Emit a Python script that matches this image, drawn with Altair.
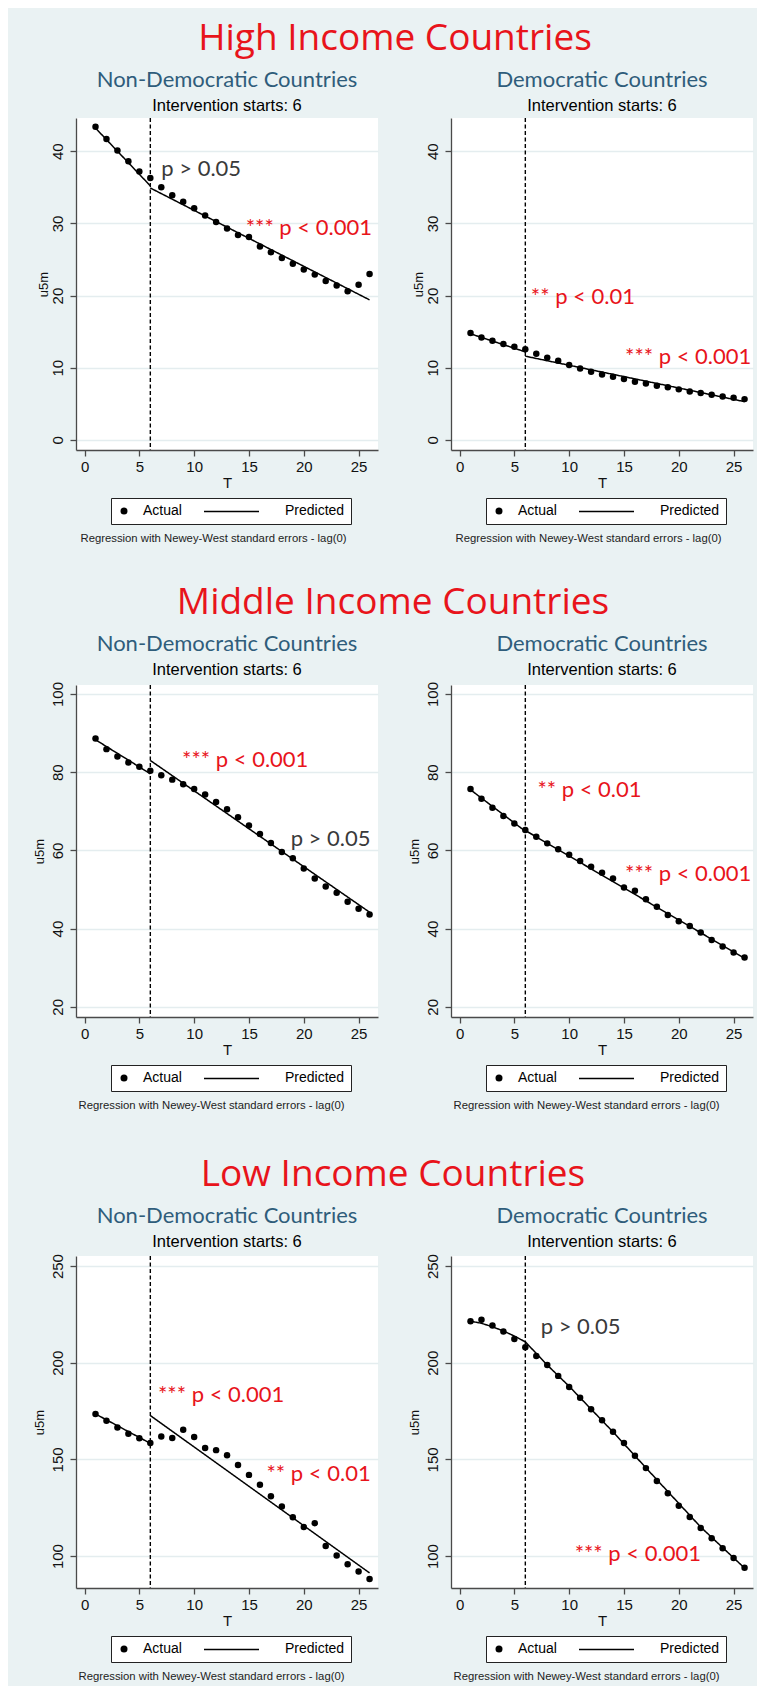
import altair as alt
import pandas as pd

# ---------------- data ----------------
T = list(range(1, 27))
intervention = 6
x_ticks = [0, 5, 10, 15, 20, 25]
legend_labels = ["Actual", "Predicted"]
note_text = "Regression with Newey-West standard errors - lag(0)"
sub_label = "Intervention starts: 6"
row_titles = ["High Income Countries", "Middle Income Countries", "Low Income Countries"]
col_titles = ["Non-Democratic Countries", "Democratic Countries"]

# High income, non-democratic
hi_nd_actual = [43.4, 41.7, 40.1, 38.6, 37.2, 36.3, 35.0, 33.9, 33.0, 32.1, 31.1, 30.2, 29.3,
                28.4, 28.1, 26.8, 26.0, 25.2, 24.4, 23.6, 22.9, 22.0, 21.4, 20.6, 21.5, 23.0]
hi_nd_pre_t, hi_nd_pre_v = [1, 6], [43.2, 35.2]
hi_nd_post_t, hi_nd_post_v = [6, 26], [34.9, 19.4]
hi_nd_notes_t = [7.0, 14.7]
hi_nd_notes_y = [37.6, 29.4]
hi_nd_notes = ["p > 0.05", "*** p < 0.001"]

# High income, democratic
hi_d_actual = [14.8, 14.2, 13.75, 13.3, 12.9, 12.55, 11.95, 11.4, 10.97, 10.37, 9.9, 9.45, 9.07,
               8.75, 8.43, 8.06, 7.8, 7.5, 7.3, 7.0, 6.7, 6.5, 6.25, 6.0, 5.83, 5.65]
hi_d_pre_t, hi_d_pre_v = [1, 6], [14.7, 12.2]
hi_d_post_t, hi_d_post_v = [6, 26], [11.6, 5.3]
hi_d_notes_t = [6.5, 15.1]
hi_d_notes_y = [19.8, 11.5]
hi_d_notes = ["** p < 0.01", "*** p < 0.001"]

# Middle income, non-democratic
mid_nd_actual = [88.6, 85.9, 84.0, 82.5, 81.4, 80.4, 79.2, 78.1, 76.9, 75.7, 74.3, 72.4, 70.5,
                 68.5, 66.4, 64.2, 61.9, 59.6, 58.0, 55.4, 52.8, 50.8, 49.2, 46.9, 45.1, 43.6]
mid_nd_pre_t, mid_nd_pre_v = [1, 6], [88.3, 79.6]
mid_nd_post_t, mid_nd_post_v = [6, 26], [83.0, 44.2]
mid_nd_notes_t = [8.9, 18.8]
mid_nd_notes_y = [83.2, 62.9]
mid_nd_notes = ["*** p < 0.001", "p > 0.05"]

# Middle income, democratic
mid_d_actual = [75.7, 73.2, 70.9, 68.8, 66.9, 65.2, 63.5, 61.8, 60.3, 58.9, 57.3, 55.8, 54.3,
                52.8, 50.5, 49.7, 47.5, 45.6, 43.5, 41.9, 40.7, 39.0, 37.1, 35.4, 33.9, 32.6]
mid_d_pre_t, mid_d_pre_v = [1, 6], [75.5, 64.9]
mid_d_post_t, mid_d_post_v = [6, 26], [65.1, 32.4]
mid_d_notes_t = [7.1, 15.1]
mid_d_notes_y = [75.4, 54.0]
mid_d_notes = ["** p < 0.01", "*** p < 0.001"]

# Low income, non-democratic
lo_nd_actual = [173.5, 170.0, 166.5, 163.3, 161.0, 158.5, 161.9, 161.1, 165.4, 161.6, 155.9, 154.8, 152.2,
                147.1, 142.0, 136.9, 131.0, 125.6, 120.1, 115.1, 117.0, 105.2, 100.3, 95.8, 92.0, 88.2]
lo_nd_pre_t, lo_nd_pre_v = [1, 6], [173.5, 158.3]
lo_nd_post_t, lo_nd_post_v = [6, 26], [172.7, 91.3]
lo_nd_notes_t = [6.7, 16.6]
lo_nd_notes_y = [183.2, 142.4]
lo_nd_notes = ["*** p < 0.001", "** p < 0.01"]

# Low income, democratic
lo_d_actual = [221.4, 222.2, 219.3, 216.1, 212.3, 208.0, 203.5, 198.8, 193.2, 187.5, 181.9, 176.0, 170.2,
               164.3, 158.5, 151.9, 145.5, 138.8, 132.5, 126.0, 120.2, 114.5, 109.2, 104.0, 99.0, 94.0]
lo_d_pre_t, lo_d_pre_v = [1, 2, 3, 4, 5, 6], [221.5, 220.4, 218.6, 216.4, 213.8, 210.8]
lo_d_post_t, lo_d_post_v = [6, 7, 8, 10, 14, 18, 22, 26], [210.8, 204.8, 198.8, 187.8, 164.2, 139.5, 115.0, 93.8]
lo_d_notes_t = [7.4, 10.5]
lo_d_notes_y = [218.4, 100.9]
lo_d_notes = ["p > 0.05", "*** p < 0.001"]

y_domains = [[-1.4, 44.6], [17.4, 102.3], [83.5, 255.2]]
y_ticks = [[0, 10, 20, 30, 40], [20, 40, 60, 80, 100], [100, 150, 200, 250]]

# ---------------- styles ----------------
BG = "#eaf2f3"
RED = "#e8141b"
BLUE = "#2f5d7b"
GRAY_TXT = "#3a3a3a"
AXIS = "#4a4a4a"
W, H = 302, 332
EMPTY_SYMBOL = "M0,0"


def note_color(s):
    return RED if s.startswith("*") else GRAY_TXT


def panel(actual, pre_t, pre_v, post_t, post_v, nt, ny, ntext, ydom, yt, title, ytp):
    df_a = pd.DataFrame({"T": T, "u5m": actual, "series": legend_labels[0]})
    df_p = pd.DataFrame({"T": pre_t + post_t, "u5m": pre_v + post_v,
                         "seg": ["pre"] * len(pre_t) + ["post"] * len(post_t),
                         "series": legend_labels[1]})
    df_r = pd.DataFrame({"T": [intervention]})
    df_n = pd.DataFrame({"T": nt, "u5m": ny, "txt": ntext, "col": [note_color(s) for s in ntext]})

    xs = alt.Scale(domain=[-0.78, 26.77], nice=False, zero=False)
    ys = alt.Scale(domain=ydom, nice=False, zero=False)
    x = alt.X("T:Q", scale=xs, axis=alt.Axis(values=x_ticks, title="T", grid=False, format="d"))
    y = alt.Y("u5m:Q", scale=ys, axis=alt.Axis(values=yt, title="u5m", grid=True, format="d",
                                                labelAngle=270, labelAlign="center",
                                                labelBaseline="bottom", titlePadding=ytp))

    rule = alt.Chart(df_r).mark_rule(color="black", strokeWidth=1.4, strokeDash=[4, 2.5]).encode(x=x)
    # line symbol of the legend (its label is shown by the boxed legend below)
    line = alt.Chart(df_p).mark_line(color="black", strokeWidth=1.5).encode(
        x="T:Q", y="u5m:Q", detail="seg:N", order="T:Q",
        strokeDash=alt.StrokeDash(
            "series:N", scale=alt.Scale(domain=[legend_labels[1]], range=[[1, 0]]),
            legend=alt.Legend(title=None, orient="none", legendX=127, legendY=365,
                              direction="horizontal", padding=0, labelFont="Liberation Sans",
                              labelFontSize=14, labelExpr="''", labelOffset=2,
                              symbolType="stroke", symbolSize=3025, symbolStrokeWidth=1.5,
                              symbolStrokeColor="black", symbolOffset=0, zindex=2)))
    # boxed legend: dot + "Actual", and the "Predicted" label
    pts = alt.Chart(df_a).mark_point(filled=True, color="black", size=42, opacity=1).encode(
        x="T:Q", y=y,
        shape=alt.Shape(
            "series:N", scale=alt.Scale(domain=legend_labels, range=["circle", EMPTY_SYMBOL]),
            legend=alt.Legend(title=None, orient="none", legendX=35, legendY=380,
                              direction="horizontal", fillColor="white", strokeColor="#222",
                              padding=6, cornerRadius=0, labelFont="Liberation Sans",
                              labelFontSize=14, labelColor="black", labelOffset=12,
                              columnPadding=77, symbolSize=49, symbolFillColor="black",
                              symbolStrokeWidth=0, symbolOpacity=1, symbolOffset=0, zindex=1)))
    txt = alt.Chart(df_n).mark_text(align="left", baseline="middle", font="Lato", fontSize=22).encode(
        x="T:Q", y="u5m:Q", text="txt:N", color=alt.Color("col:N", scale=None))

    layer = alt.layer(rule, line, pts, txt).properties(
        width=W, height=H,
        title=alt.Title(title, subtitle=sub_label, font="Lato", fontSize=22, fontWeight="normal",
                        color=BLUE, subtitleFont="Liberation Sans", subtitleFontSize=16.5,
                        subtitleColor="black", subtitlePadding=6, offset=2, anchor="middle",
                        frame="group"))
    wrapped = alt.vconcat(layer).properties(
        title=alt.Title(note_text, orient="bottom", font="Liberation Sans", fontSize=11.3,
                        fontWeight="normal", color="#222", anchor="middle", frame="bounds",
                        offset=8, dx=6)
    ).resolve_scale(shape="independent", strokeDash="independent").resolve_legend(
        shape="independent", strokeDash="independent")
    return wrapped


def row(i, left, right, spacing):
    return alt.hconcat(left, right, spacing=spacing).properties(
        title=alt.Title(row_titles[i], font="Open Sans", fontSize=37, fontWeight="normal",
                        color=RED, anchor="middle", frame="bounds", offset=11)
    ).resolve_scale(shape="independent", strokeDash="independent").resolve_legend(
        shape="independent", strokeDash="independent")


r1 = row(0,
         panel(hi_nd_actual, hi_nd_pre_t, hi_nd_pre_v, hi_nd_post_t, hi_nd_post_v,
               hi_nd_notes_t, hi_nd_notes_y, hi_nd_notes, y_domains[0], y_ticks[0], col_titles[0], 0),
         panel(hi_d_actual, hi_d_pre_t, hi_d_pre_v, hi_d_post_t, hi_d_post_v,
               hi_d_notes_t, hi_d_notes_y, hi_d_notes, y_domains[0], y_ticks[0], col_titles[1], 0),
         33)
r2 = row(1,
         panel(mid_nd_actual, mid_nd_pre_t, mid_nd_pre_v, mid_nd_post_t, mid_nd_post_v,
               mid_nd_notes_t, mid_nd_notes_y, mid_nd_notes, y_domains[1], y_ticks[1], col_titles[0], 4),
         panel(mid_d_actual, mid_d_pre_t, mid_d_pre_v, mid_d_post_t, mid_d_post_v,
               mid_d_notes_t, mid_d_notes_y, mid_d_notes, y_domains[1], y_ticks[1], col_titles[1], 4),
         30)
r3 = row(2,
         panel(lo_nd_actual, lo_nd_pre_t, lo_nd_pre_v, lo_nd_post_t, lo_nd_post_v,
               lo_nd_notes_t, lo_nd_notes_y, lo_nd_notes, y_domains[2], y_ticks[2], col_titles[0], 4),
         panel(lo_d_actual, lo_d_pre_t, lo_d_pre_v, lo_d_post_t, lo_d_post_v,
               lo_d_notes_t, lo_d_notes_y, lo_d_notes, y_domains[2], y_ticks[2], col_titles[1], 4),
         30)

top = alt.vconcat(r1, r2, spacing=39).resolve_scale(
    shape="independent", strokeDash="independent").resolve_legend(
    shape="independent", strokeDash="independent")
chart = alt.vconcat(top, r3, spacing=45).resolve_scale(
    shape="independent", strokeDash="independent").resolve_legend(
    shape="independent", strokeDash="independent").properties(
    padding={"left": 25, "top": 11, "right": 4, "bottom": 4}
).configure(background=BG).configure_view(fill="white", strokeWidth=0).configure_axis(
    labelFont="Liberation Sans", titleFont="Liberation Sans", labelFontSize=15, titleFontSize=15,
    labelColor="#111", titleColor="#111", titleFontWeight="normal", domainColor=AXIS,
    tickColor=AXIS, domainWidth=1.3, tickWidth=1.3, tickSize=6, gridColor="#e4edef",
    gridWidth=1.3
).configure_axisX(labelPadding=3, titlePadding=1).configure_axisY(
    labelPadding=5, titleFontSize=13)

chart.save("out.html", embed_options={"renderer": "svg", "actions": False})
